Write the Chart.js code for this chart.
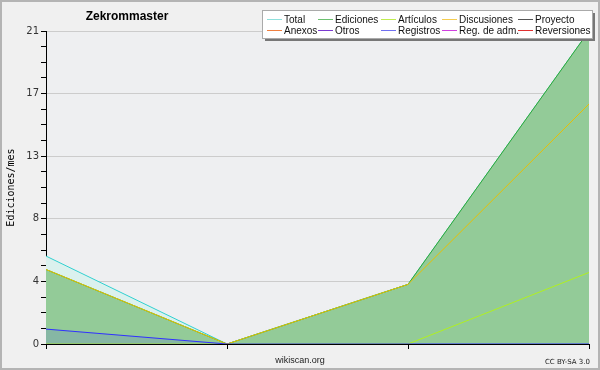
<!DOCTYPE html>
<html lang="es">

<head>
    <meta charset="UTF-8">
    <title>Zekrommaster</title>
    <script src="https://cdn.jsdelivr.net/npm/chart.js@4/dist/chart.umd.min.js"></script>
    <style>
        html, body { margin: 0; padding: 0; background: #f0f0f0; }
        #wrap { width: 600px; height: 370px; }
    </style>
</head>

<body>
    <div id="wrap"><canvas id="myChart" width="600" height="370"></canvas></div>

    <script>
        // datos (ediciones por mes)
        const meses = ['', '', '', '']
        const total = [5.9, 0, 4, 21]
        const ediciones = [5, 0, 4, 21]
        const articulos = [0, 0, 0, 4.8]
        const discusiones = [5, 0, 4, 16.1]
        const registros = [1, 0, 0, 0]
        const vacio = [null, null, null, null]
        const yMax = 21
        const yPaso = 1.05

        const leyenda1 = ['Total', 'Ediciones', 'Artículos', 'Discusiones', 'Proyecto']
        const leyenda2 = ['Anexos', 'Otros', 'Registros', 'Reg. de adm.', 'Reversiones']

        const colores = {
            'Total': '#8fe0dc', 'Ediciones': '#6cc070', 'Artículos': '#c0ec50', 'Discusiones': '#f4cc50',
            'Proyecto': '#555555', 'Anexos': '#f08040', 'Otros': '#7a3ad0', 'Registros': '#7070f0',
            'Reg. de adm.': '#d040e0', 'Reversiones': '#e03030'
        }

        // leyenda, titulo y textos dibujados a mano
        const extras = {
            id: 'extras',
            beforeDraw(chart) {
                const c = chart.ctx, a = chart.chartArea
                c.save()
                c.fillStyle = '#f0f0f0'
                c.fillRect(0, 0, 600, 370)
                c.fillStyle = '#eeeff1'
                c.fillRect(a.left, a.top, a.right - a.left, a.bottom - a.top)
                c.restore()
            },
            afterDraw(chart) {
                const c = chart.ctx
                c.save()
                c.strokeStyle = '#b4b4b4'
                c.lineWidth = 2
                c.strokeRect(1, 1, 598, 368)

                c.fillStyle = '#000'
                c.font = 'bold 12px "Liberation Sans"'
                c.textAlign = 'center'
                c.textBaseline = 'middle'
                c.fillText('Zekrommaster', 127, 17)

                c.font = '9px "Liberation Sans"'
                c.fillStyle = '#222'
                c.fillText('wikiscan.org', 300, 361)
                c.font = '7px "DejaVu Sans"'
                c.textAlign = 'right'
                c.fillText('CC BY-SA 3.0', 590, 362)

                // caja de la leyenda con sombra
                c.fillStyle = '#777'
                c.fillRect(265, 13, 330, 28)
                c.fillStyle = '#fff'
                c.fillRect(262, 10, 330, 29)
                c.strokeStyle = '#aaa'
                c.lineWidth = 1
                c.strokeRect(262.5, 10.5, 330, 28)

                const xs = [267, 318, 381, 442, 518]
                c.font = '10px "Liberation Sans"'
                c.textAlign = 'left'
                const filas = [[leyenda1, 19], [leyenda2, 30]]
                filas.forEach(([nombres, y]) => {
                    nombres.forEach((n, i) => {
                        c.strokeStyle = colores[n]
                        c.beginPath()
                        c.moveTo(xs[i], y + 0.5)
                        c.lineTo(xs[i] + 15, y + 0.5)
                        c.stroke()
                        c.fillStyle = '#111'
                        c.fillText(n, xs[i] + 17, y + 1)
                    })
                })
                c.restore()
            }
        }

        const linea = (label, data, color, extra) => Object.assign({
            label: label,
            data: data,
            borderColor: color,
            borderWidth: 1,
            pointRadius: 0,
            tension: 0,
            fill: false
        }, extra || {})

        const ctx = document.getElementById('myChart').getContext('2d')
        const myChart = new Chart(ctx, {
            type: 'line',
            data: {
                labels: meses,
                datasets: [
                    linea('Total', total, '#30d0d0', { fill: 'origin', backgroundColor: '#dbf1ee', order: 9 }),
                    linea('Ediciones', ediciones, '#30a838', { fill: 'origin', backgroundColor: '#93cb98', order: 8 }),
                    linea('Artículos', articulos, '#b0f020', { order: 3 }),
                    linea('Discusiones', discusiones, '#e8c000', { order: 2 }),
                    linea('Proyecto', vacio, colores['Proyecto']),
                    linea('Anexos', vacio, colores['Anexos']),
                    linea('Otros', vacio, colores['Otros']),
                    linea('Registros', registros, '#3030ff', { fill: 'origin', backgroundColor: 'rgba(40,40,255,0.12)', order: 1 }),
                    linea('Reg. de adm.', vacio, colores['Reg. de adm.']),
                    linea('Reversiones', vacio, colores['Reversiones'])
                ]
            },
            plugins: [extras],
            options: {
                responsive: false,
                animation: false,
                layout: { padding: { top: 31, right: 11, left: 0, bottom: 0 } },
                plugins: {
                    legend: { display: false },
                    tooltip: { enabled: false }
                },
                scales: {
                    x: {
                        z: 1,
                        offset: false,
                        afterFit: (s) => { s.height = 26 },
                        border: { color: '#000', width: 1 },
                        grid: { drawOnChartArea: false, tickLength: 5, color: '#000' },
                        ticks: { display: true, padding: 0, font: { size: 1 } }
                    },
                    y: {
                        z: 1,
                        min: 0,
                        max: yMax,
                        afterFit: (s) => { s.width = 46 },
                        border: { color: '#000', width: 1 },
                        title: {
                            display: true,
                            text: 'Ediciones/mes',
                            color: '#000',
                            font: { family: '"DejaVu Sans Mono"', size: 10 },
                            padding: { top: 5, bottom: 0 }
                        },
                        grid: {
                            tickLength: 5,
                            tickColor: '#000',
                            color: (c) => (c.index % 4 === 0 && c.index > 0) ? '#cccccc' : 'rgba(0,0,0,0)'
                        },
                        ticks: {
                            stepSize: yPaso,
                            autoSkip: false,
                            padding: 2,
                            color: '#333',
                            font: { family: '"DejaVu Sans"', size: 10 },
                            callback: (v, i) => (i % 4 === 0) ? Math.round(v) : ''
                        }
                    }
                }
            }
        })
    </script>
</body>

</html>
